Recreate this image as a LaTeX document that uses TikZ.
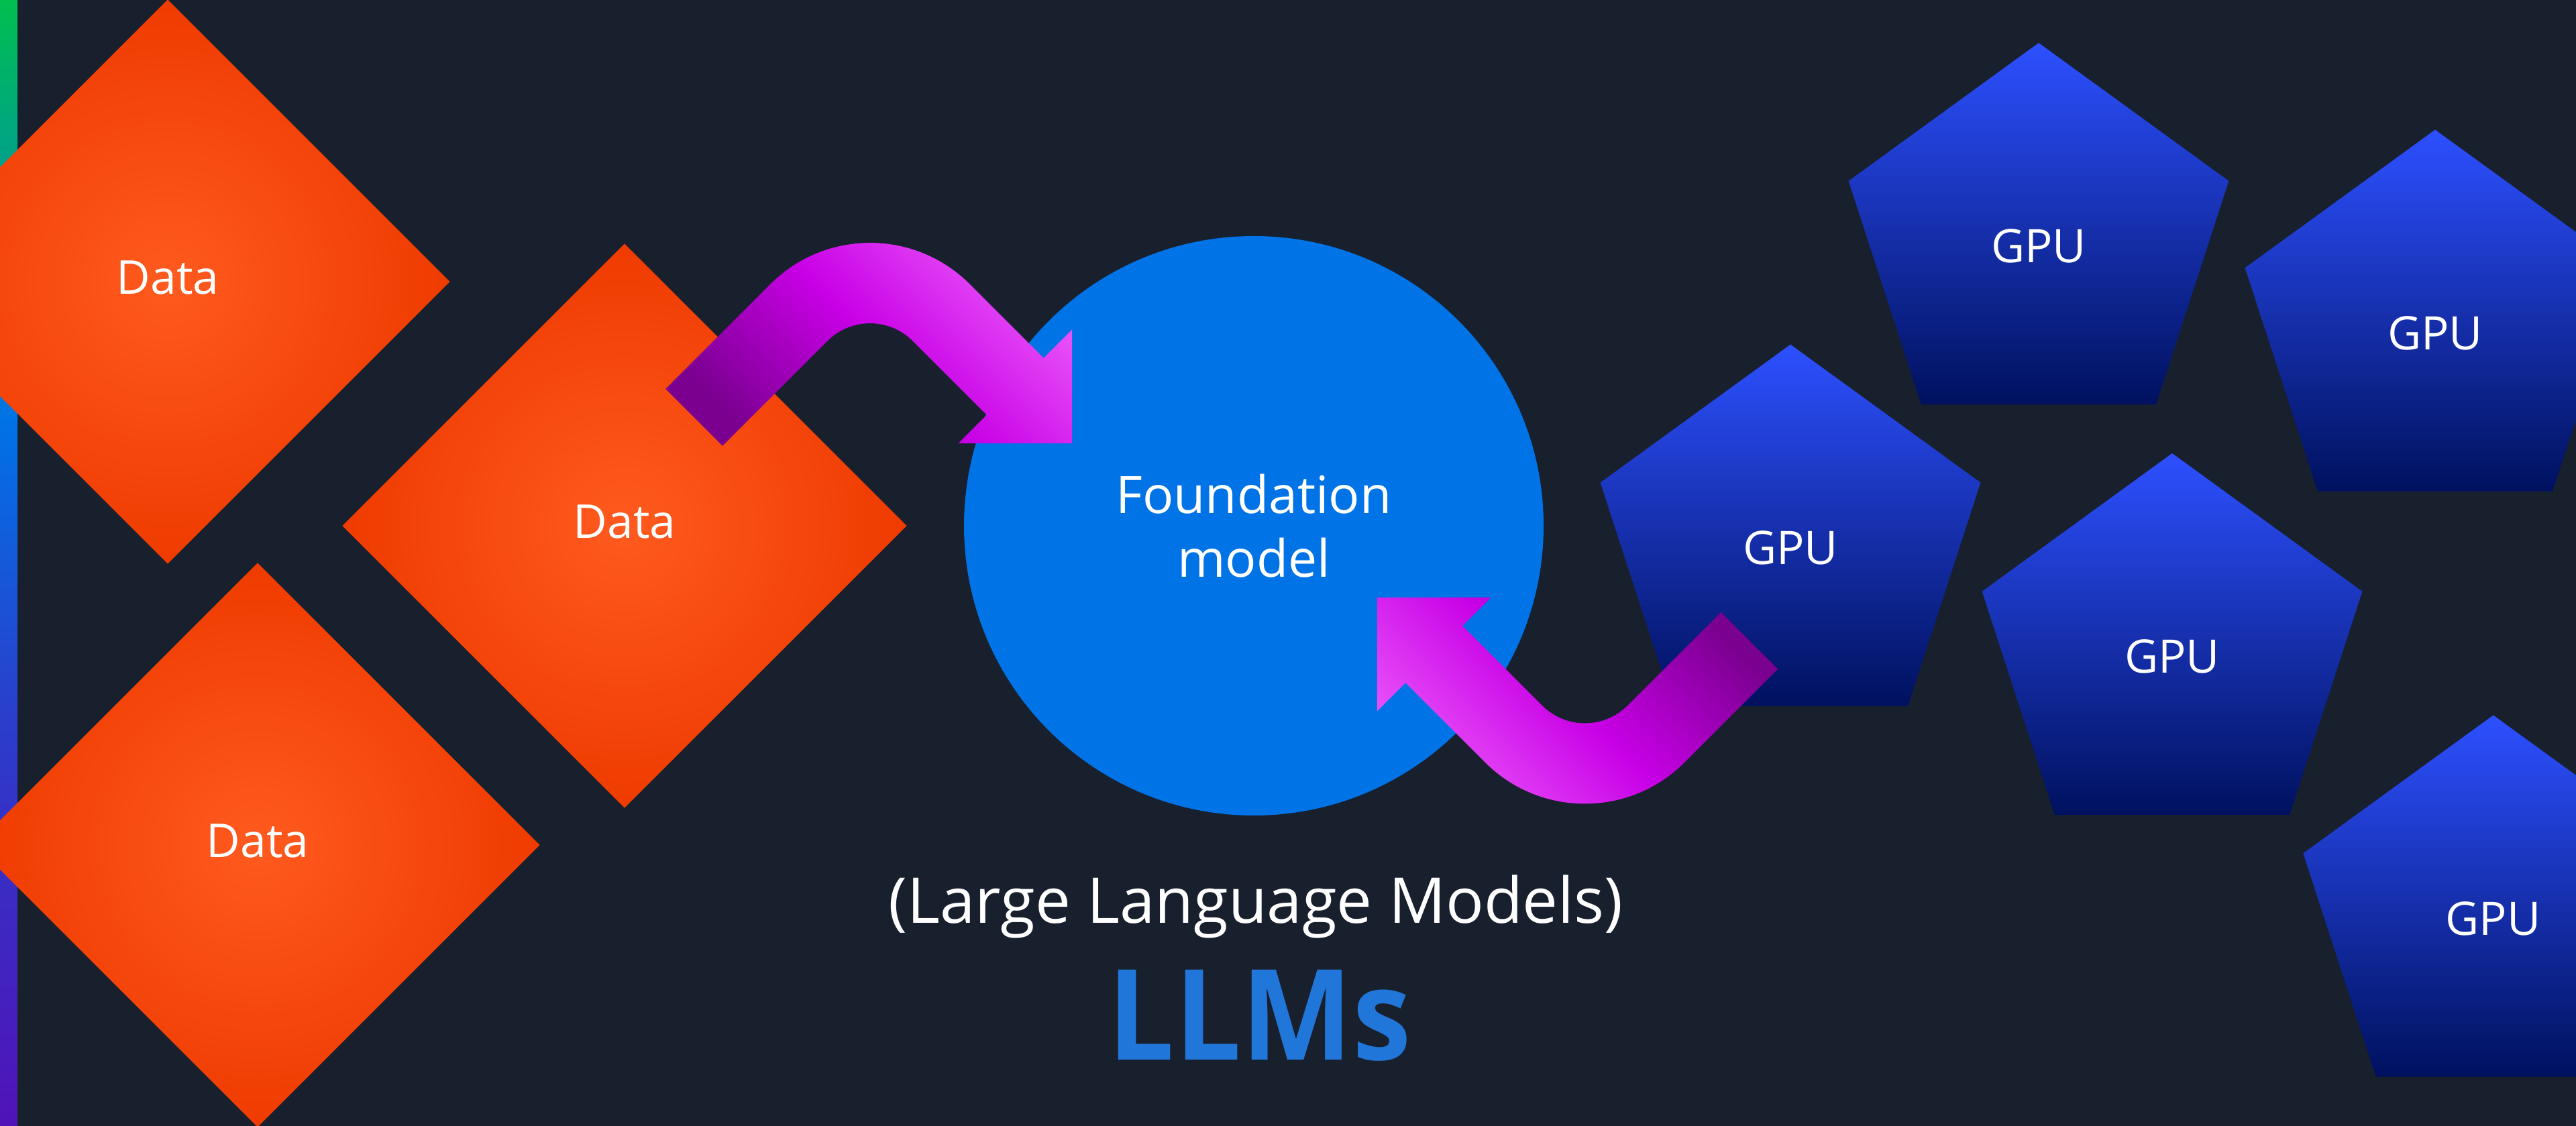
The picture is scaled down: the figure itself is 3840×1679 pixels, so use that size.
\documentclass[tikz,border=0pt]{standalone}
\usepackage{graphicx}
\usepackage{fontspec}
\setmainfont{Open Sans}
\usetikzlibrary{shapes.geometric}
\definecolor{bg}{HTML}{181F2D}
\definecolor{fmblue}{HTML}{0073E6}
\definecolor{llmblue}{HTML}{2176D9}
\definecolor{datain}{HTML}{FF5A1F}
\definecolor{dataout}{HTML}{EF3B00}
\definecolor{gputop}{HTML}{2D50FF}
\definecolor{gpumid}{HTML}{001AA3}
\definecolor{gpubot}{HTML}{00115F}
\definecolor{bargreen}{HTML}{00BF4F}
\definecolor{barblue}{HTML}{0073E6}
\definecolor{barindigo}{HTML}{2B3DCB}
\definecolor{barpurple}{HTML}{5013B8}
\definecolor{adark}{HTML}{7A008F}
\definecolor{amid}{HTML}{C800E6}
\definecolor{alight}{HTML}{EA56FA}
\pgfdeclareverticalshading{sidebar}{100bp}{color(0bp)=(barpurple); color(25bp)=(barpurple); color(43bp)=(barindigo); color(56.5bp)=(barblue); color(75bp)=(bargreen); color(100bp)=(bargreen)}
\pgfdeclarehorizontalshading{arrowgrad}{100bp}{color(0bp)=(adark); color(25bp)=(adark); color(50bp)=(amid); color(75bp)=(alight); color(100bp)=(alight)}
\tikzset{
  datanode/.style={diamond, aspect=1, minimum width=84.2mm, minimum height=84.2mm, inner sep=0pt,
    inner color=datain, outer color=dataout, text=white,
    font=\fontsize{19.8}{24}\selectfont, text height=3.8mm, text depth=0mm},
  gpunode/.style={regular polygon, regular polygon sides=5, minimum size=59.6mm, inner sep=0pt,
    top color=gputop, middle color=gpumid, bottom color=gpubot, text=white,
    font=\fontsize{19.6}{23}\selectfont, text height=6mm, text depth=0mm},
  fmnode/.style={circle, minimum size=86.4mm, inner sep=0pt, fill=fmblue, text=white,
    align=center, font=\fontsize{21.9}{27}\selectfont},
  fatarrow/.style={shading=arrowgrad}
}
\begin{document}
\begin{tikzpicture}[x=0.1mm,y=0.1mm]
\useasboundingbox (0,0) rectangle (3840,1679);
\clip (0,0) rectangle (3840,1679);
\fill[bg] (0,0) rectangle (3840,1679);
% left accent bar
\shade[shading=sidebar] (0,0) rectangle (26,1679);
% data diamonds
\node[datanode] (data1) at (250,1259) {Data};
\node[datanode] (data2) at (931,895) {Data};
\node[datanode] (data3) at (384,419) {Data};
% foundation model
\node[fmnode] (fm) at (1869,895) {Foundation\\model};
% upper arrow: data -> foundation model
\begin{scope}[shift={(1297,1319)}]
\shade[fatarrow, shading angle=45]
  (-304.76,-219.91) -- (-148.49,-63.64)
  arc[start angle=135, end angle=45, radius=210]
  -- (258.80,-173.95) -- (301.23,-131.52) -- (301.23,-301.23)
  -- (131.52,-301.23) -- (173.95,-258.80) -- (63.64,-148.49)
  arc[start angle=45, end angle=135, radius=90]
  -- (-219.91,-304.76) -- cycle;
\end{scope}
% GPUs
\node[gpunode] (gpu1) at (3039,1317) {GPU};
\node[gpunode] (gpu2) at (3630,1187.5) {GPU};
\node[gpunode] (gpu3) at (2669,867.3) {GPU};
\node[gpunode] (gpu4) at (3238,705) {GPU};
\node[gpunode] (gpu5) at (3716.7,314.5) {GPU};
% lower arrow: GPU -> foundation model
\begin{scope}[shift={(2362.5,478.4)}, rotate=180]
\shade[fatarrow, shading angle=225]
  (-287.79,-202.94) -- (-148.49,-63.64)
  arc[start angle=135, end angle=45, radius=210]
  -- (267.29,-182.43) -- (309.71,-140.01) -- (309.71,-309.71)
  -- (140.01,-309.71) -- (182.43,-267.29) -- (63.64,-148.49)
  arc[start angle=45, end angle=135, radius=90]
  -- (-202.94,-287.79) -- cycle;
\end{scope}
% titles
\node[anchor=base, text=white, font=\fontsize{26.8}{32}\selectfont, inner sep=0pt] (title) at (1872,302) {(Large Language Models)};
\node[anchor=base, text=llmblue, font=\fontsize{50}{60}\selectfont\bfseries, inner sep=0pt] (llms) at (1877.5,98) {\scalebox{1}[1.07]{LLMs}};
\end{tikzpicture}
\end{document}
